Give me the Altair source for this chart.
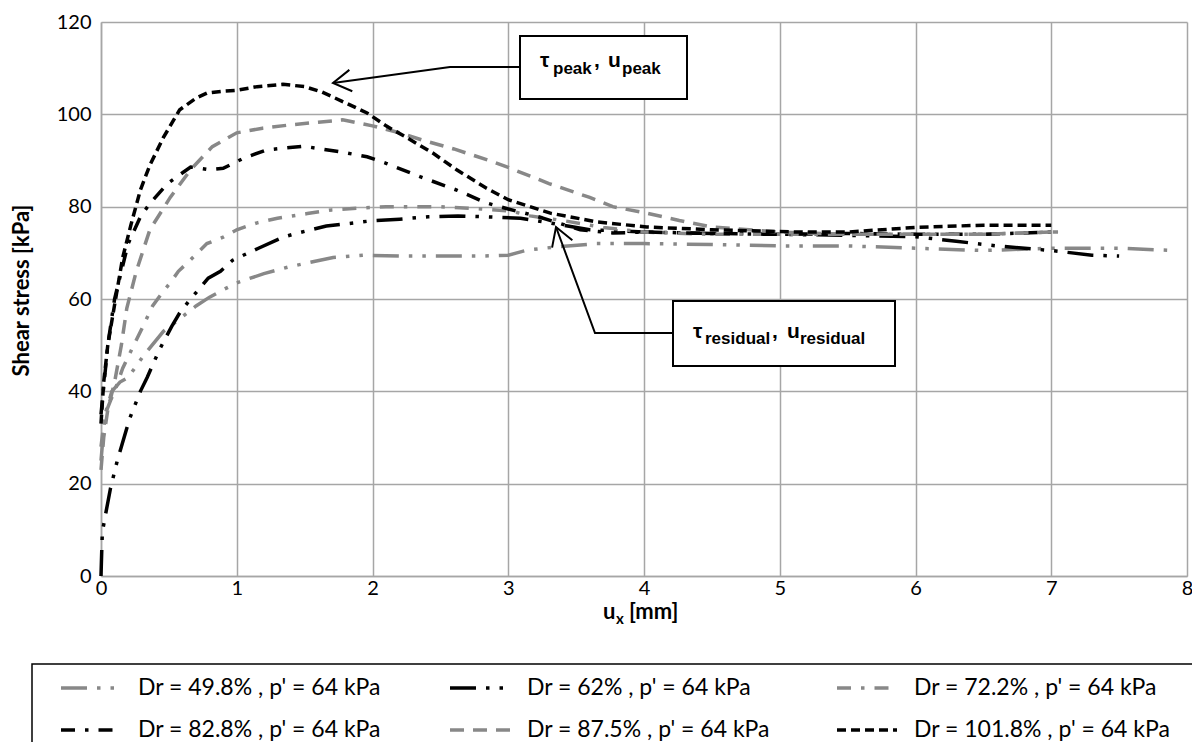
import math
import altair as alt
import pandas as pd

# ---------------- data ----------------
series_names = [
    "Dr = 49.8% , p' = 64 kPa",
    "Dr = 62% , p' = 64 kPa",
    "Dr = 72.2% , p' = 64 kPa",
    "Dr = 82.8% , p' = 64 kPa",
    "Dr = 87.5% , p' = 64 kPa",
    "Dr = 101.8% , p' = 64 kPa",
]

x_498 = [0, 0.03, 0.08, 0.14, 0.2, 0.32, 0.46, 0.55, 0.7, 0.8, 0.9, 1.0, 1.2, 1.39, 1.52, 1.71, 1.93,
         2.2, 2.5, 2.8, 3.0, 3.14, 3.36, 3.65, 4.0, 4.5, 5.0, 5.5, 6.0, 6.5, 7.0, 7.5, 7.9]
y_498 = [25, 35, 40, 42, 43, 48, 53, 55, 58.5, 60.4, 62, 63.5, 65.5, 67, 67.8, 69, 69.5,
         69.3, 69.3, 69.3, 69.5, 70.6, 71.3, 72, 72, 71.8, 71.5, 71.5, 71, 70.5, 71, 71, 70.5]

x_62 = [0, 0.005, 0.01, 0.03, 0.07, 0.12, 0.15, 0.21, 0.29, 0.34, 0.43, 0.52, 0.58, 0.66, 0.79, 0.88,
        0.97, 1.16, 1.34, 1.45, 1.66, 1.87, 1.98, 2.2, 2.41, 2.63, 2.84, 3.09, 3.2, 3.4, 3.6, 4.0,
        4.5, 5.0, 5.5, 6.0, 6.3, 6.6, 7.0, 7.3, 7.5]
y_62 = [0, 5, 9.5, 12.8, 19, 25, 28, 34, 40, 43, 49, 54, 57, 60, 64.5, 66,
        68.4, 71, 73.4, 74.3, 75.8, 76.5, 76.9, 77.3, 77.8, 78, 77.8, 77.5, 77, 76, 75, 74.5,
        74.2, 74, 73.8, 73.5, 72.5, 71.5, 70.5, 69.5, 69.3]

x_722 = [0, 0.03, 0.07, 0.1, 0.16, 0.2, 0.25, 0.3, 0.38, 0.45, 0.51, 0.57, 0.66, 0.78, 0.9, 1.0,
         1.15, 1.3, 1.52, 1.7, 1.9, 2.1, 2.5, 2.8, 3.03, 3.16, 3.4, 3.7, 4.0, 4.5, 5.0, 5.5, 6.0,
         6.5, 7.0, 7.05]
y_722 = [28, 35, 38, 40, 45, 47.5, 50.5, 53.5, 58.5, 61.3, 63.5, 66, 68.5, 72, 73.4, 75,
         76.5, 77.5, 78.5, 79.3, 79.7, 80, 80, 79.5, 79, 78, 77, 75.5, 74.5, 74, 74, 74, 74,
         74, 74.5, 74.5]

x_828 = [0, 0.02, 0.05, 0.1, 0.2, 0.29, 0.36, 0.49, 0.66, 0.8, 0.9, 1.05, 1.22, 1.49, 1.78, 1.96,
         2.1, 2.35, 2.62, 2.84, 3.0, 3.2, 3.53, 3.77, 4.02, 4.5, 5.0, 5.5, 6.0, 6.5, 7.0]
y_828 = [35, 41, 50, 60, 72, 77.8, 80.7, 85, 88.6, 88, 88.3, 90.5, 92.3, 93.1, 91.8, 90.8,
         89.4, 86.5, 83.6, 80.8, 79.5, 78, 75, 74.3, 74.5, 74.2, 74, 74.2, 74, 74, 74.5]

x_875 = [0, 0.02, 0.05, 0.1, 0.15, 0.19, 0.26, 0.36, 0.51, 0.66, 0.82, 1.0, 1.19, 1.39, 1.6, 1.78,
         2.0, 2.2, 2.37, 2.6, 2.86, 3.0, 3.3, 3.6, 3.77, 4.02, 4.26, 4.5, 5.0, 5.5, 6.0, 6.5, 7.0, 7.05]
y_875 = [23, 30, 36, 42, 50, 58, 66, 75, 82, 88, 93, 96, 97, 97.7, 98.3, 98.8,
         97.5, 96, 94.4, 92.5, 90, 88.5, 85, 82, 80, 78.6, 77, 75.6, 74.5, 74, 74, 74, 74.5, 74.5]

x_1018 = [0, 0.02, 0.05, 0.09, 0.16, 0.22, 0.29, 0.36, 0.46, 0.58, 0.7, 0.78, 0.9, 1.0, 1.15, 1.34,
          1.5, 1.63, 1.8, 1.96, 2.1, 2.25, 2.45, 2.62, 2.84, 3.0, 3.31, 3.65, 4.02, 4.5, 5.12, 5.5,
          6.0, 6.5, 7.0]
y_1018 = [33, 42, 50, 57, 69, 76, 83.6, 89, 95, 101, 103.5, 104.6, 105, 105.2, 106, 106.5,
          106, 104.8, 102.5, 100.3, 97.5, 95, 91.5, 88, 84, 81.5, 78.6, 76.7, 75.6, 75, 74.5, 74.5,
          75.5, 76, 76]

x_ticks = [0, 1, 2, 3, 4, 5, 6, 7, 8]
y_ticks = [0, 20, 40, 60, 80, 100, 120]

# ---------------- styles ----------------
series_colors = ["#888888", "#000000", "#888888", "#000000", "#888888", "#000000"]
series_dashes = [
    [26, 10, 3.5, 10, 3.5, 10],
    [26, 10, 3.5, 10, 3.5, 10],
    [14, 10, 3.5, 10],
    [14, 10, 3.5, 10],
    [14, 9],
    [9, 5],
]

rows = []
for name, xs, ys in zip(series_names,
                        [x_498, x_62, x_722, x_828, x_875, x_1018],
                        [y_498, y_62, y_722, y_828, y_875, y_1018]):
    for xv, yv in zip(xs, ys):
        rows.append({"series": name, "ux": xv, "tau": yv})
df = pd.DataFrame(rows)

# plot geometry (pixels) used to place annotations
W, H = 1086, 554
PX_LEFT, PX_TOP = 101, 22
X_MAX, Y_MAX = 8, 120
KX, KY = W / X_MAX, H / Y_MAX


def dx(p):
    return (p - PX_LEFT) / KX


def dy(p):
    return (PX_TOP + H - p) / KY


FONT = "Lato"
ANN_FONT = "Liberation Sans"

x_scale = alt.Scale(domain=[0, X_MAX], nice=False, zero=False)
y_scale = alt.Scale(domain=[0, Y_MAX], nice=False)
color_scale = alt.Scale(domain=series_names, range=series_colors)
dash_scale = alt.Scale(domain=series_names, range=series_dashes)

lines = alt.Chart(df).mark_line(strokeWidth=3.5).encode(
    x=alt.X("ux:Q", scale=x_scale,
            axis=alt.Axis(values=x_ticks, format="d", title=None, ticks=False, labelPadding=2,
                          labelFontSize=20, labelFont=FONT, labelColor="#000000",
                          gridColor="#a6a6a6", gridWidth=1.5, domainColor="#a6a6a6",
                          domainWidth=1.5, labelFlush=False)),
    y=alt.Y("tau:Q", scale=y_scale,
            axis=alt.Axis(values=y_ticks, format="d", title="Shear stress [kPa]", ticks=False,
                          labelPadding=10, labelFontSize=20, labelFont=FONT,
                          labelColor="#000000", gridColor="#a6a6a6", gridWidth=1.5,
                          domainColor="#a6a6a6", domainWidth=1.5, titleFont=FONT,
                          titleFontSize=22, titleFontWeight="bold", titleColor="#000000",
                          titleX=-80, titleY=268, titleBaseline="middle", titleAlign="center",
                          titleAngle=270)),
    color=alt.Color("series:N", scale=color_scale, legend=None),
    strokeDash=alt.StrokeDash("series:N", scale=dash_scale, legend=None),
)

# ---------------- annotations ----------------
boxes = pd.DataFrame([
    {"x": dx(520), "x2": dx(687), "y": dy(36), "y2": dy(99)},
    {"x": dx(673), "x2": dx(895), "y": dy(301), "y2": dy(366)},
])
box_layer = alt.Chart(boxes).mark_rect(fill="white", stroke="black", strokeWidth=2).encode(
    x="x:Q", x2="x2:Q", y="y:Q", y2="y2:Q")

arrow_pts = [
    ("a", [(520, 67), (450, 67), (333, 83)]),
    ("b", [(673, 333), (595, 333), (556, 227)]),
]
conn_rows = []
heads = []
for key, pts in arrow_pts:
    for i, (px, py) in enumerate(pts):
        conn_rows.append({"arrow": key, "i": i, "x": dx(px), "y": dy(py)})
    (bx, by), (tx, ty) = pts[-2], pts[-1]
    ang = math.degrees(math.atan2(ty - by, tx - bx)) % 360
    heads.append({"x": dx(tx), "y": dy(ty), "angle": ang})
conn = pd.DataFrame(conn_rows)
conn_layer = alt.Chart(conn).mark_line(color="black", strokeWidth=2).encode(
    x="x:Q", y="y:Q", detail="arrow:N", order="i:Q")

head_layers = []
for h in heads:
    head_layers.append(
        alt.Chart(pd.DataFrame([h])).mark_point(
            shape="M -1 -0.6 L 0 0 L -1 0.6", filled=False, stroke="black", strokeWidth=2,
            size=1296, opacity=1, angle=round(h["angle"], 1)
        ).encode(x="x:Q", y="y:Q")
    )

main_txt = pd.DataFrame([
    {"t": "τ", "x": dx(540), "y": dy(67)},
    {"t": ",", "x": dx(594), "y": dy(67)},
    {"t": "u", "x": dx(608), "y": dy(67)},
    {"t": "τ", "x": dx(693), "y": dy(338)},
    {"t": ",", "x": dx(772), "y": dy(338)},
    {"t": "u", "x": dx(787), "y": dy(338)},
])
sub_txt = pd.DataFrame([
    {"t": "peak", "x": dx(553), "y": dy(73.5)},
    {"t": "peak", "x": dx(622), "y": dy(73.5)},
    {"t": "residual", "x": dx(705), "y": dy(343.5)},
    {"t": "residual", "x": dx(800), "y": dy(343.5)},
])
main_layer = alt.Chart(main_txt).mark_text(
    align="left", baseline="alphabetic", font=ANN_FONT, fontWeight="bold", fontSize=21,
    color="black").encode(x="x:Q", y="y:Q", text="t:N")
sub_layer = alt.Chart(sub_txt).mark_text(
    align="left", baseline="alphabetic", font=ANN_FONT, fontWeight="bold", fontSize=17,
    color="black").encode(x="x:Q", y="y:Q", text="t:N")

# x-axis title with subscript
xt_main = pd.DataFrame([
    {"t": "u", "x": dx(603), "y": dy(619)},
    {"t": "[mm]", "x": dx(629), "y": dy(619)},
])
xt_sub = pd.DataFrame([{"t": "x", "x": dx(616), "y": dy(624)}])
xt_layer = alt.Chart(xt_main).mark_text(
    align="left", baseline="alphabetic", font=FONT, fontWeight="bold", fontSize=22,
    color="black").encode(x="x:Q", y="y:Q", text="t:N")
xs_layer = alt.Chart(xt_sub).mark_text(
    align="left", baseline="alphabetic", font=FONT, fontWeight="bold", fontSize=15,
    color="black").encode(x="x:Q", y="y:Q", text="t:N")

# ---------------- legend (manual, below plot) ----------------
leg_box = pd.DataFrame([{"x": dx(32), "x2": dx(1230), "y": dy(664), "y2": dy(770)}])
leg_box_layer = alt.Chart(leg_box).mark_rect(
    fill="white", stroke="black", strokeWidth=1.5).encode(
    x="x:Q", x2="x2:Q", y="y:Q", y2="y2:Q")

leg_cols_sym = [61, 450, 837]
leg_cols_txt = [138, 527, 914]
leg_rows_y = [688, 730]
leg_rows = []
for k, name in enumerate(series_names):
    r, c = divmod(k, 3)
    sx, tx, sy = leg_cols_sym[c], leg_cols_txt[c], leg_rows_y[r]
    leg_rows.append({"series": name, "x": dx(sx), "x2": dx(sx + 60), "y": dy(sy),
                     "tx": dx(tx)})
leg_df = pd.DataFrame(leg_rows)
leg_sym = alt.Chart(leg_df).mark_rule(strokeWidth=3.5).encode(
    x="x:Q", x2="x2:Q", y="y:Q",
    color=alt.Color("series:N", scale=color_scale, legend=None),
    strokeDash=alt.StrokeDash("series:N", scale=dash_scale, legend=None),
)
leg_txt = alt.Chart(leg_df).mark_text(
    align="left", baseline="middle", font=FONT, fontSize=23, color="black").encode(
    x="tx:Q", y="y:Q", text="series:N")

chart = alt.layer(
    lines, conn_layer, *head_layers, box_layer, main_layer, sub_layer,
    xt_layer, xs_layer, leg_box_layer, leg_sym, leg_txt,
).properties(
    width=W, height=H,
    autosize=alt.AutoSizeParams(type="none"),
    padding={"left": PX_LEFT - 8, "top": PX_TOP - 8, "right": 5, "bottom": 166},
    background="white",
).configure_view(strokeWidth=0)

chart.save("out.html", embed_options={"renderer": "svg", "actions": False})
